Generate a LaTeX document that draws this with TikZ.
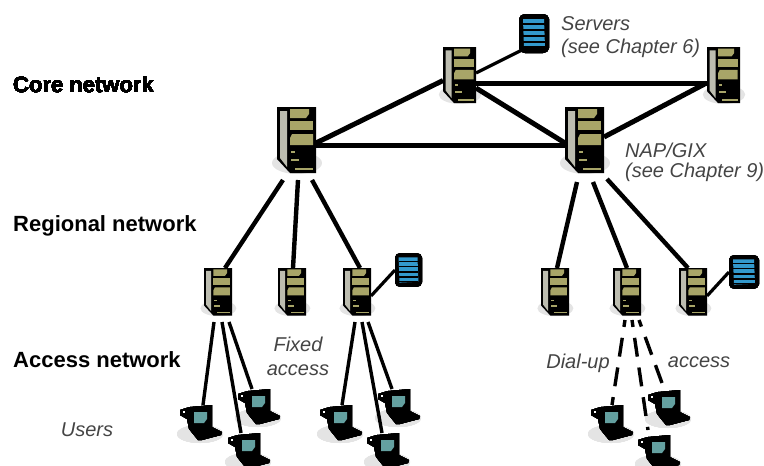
\documentclass[tikz,border=0pt]{standalone}
\usepackage{fontspec}
\setmainfont{Liberation Sans}
\definecolor{olivepanel}{HTML}{A8A568}
\definecolor{doorgray}{HTML}{BDBDB0}
\definecolor{shadowgray}{HTML}{E4E4E4}
\definecolor{teal2}{HTML}{64A0A0}
\definecolor{dbblue}{HTML}{3399CC}
\definecolor{txt}{HTML}{444444}
\tikzset{
  x=1pt,y=-1pt,
  anchorbox/.style={inner sep=0pt,outer sep=0pt,minimum width=#1},
  core/.style={line width=5pt},
  regional/.style={line width=4.4pt},
  access/.style={line width=3.4pt},
  dbLink/.style={line width=3.2pt},
  dial/.style={line width=3.4pt,dash pattern=on 19pt off 11pt,dash phase=12pt},
  head/.style={font=\fontsize{22}{26}\selectfont\bfseries,anchor=west,text=black,inner sep=0pt},
  note/.style={font=\fontsize{20}{24}\selectfont\itshape,text=txt,inner sep=0pt},
  srvshadow/.pic={\fill[shadowgray] (20,56) ellipse (25 and 11);},
  srv/.pic={
    \fill[black] (0,0)--(39,0)--(39,66)--(13,66)--(0,52)--cycle;
    \fill[doorgray] (3,4)--(10,4)--(10,60)--(3,51)--cycle;
    \fill[olivepanel] (13,2)--(32,2)--(32,7)--(29,11)--(13,11)--cycle;
    \fill[olivepanel] (13,14)--(36,14)--(36,23)--(13,23)--cycle;
    \fill[olivepanel] (15,27)--(36,27)--(36,38)--(13,38)--(13,31)--cycle;
    \fill[olivepanel] (14,44) rectangle (18,46);
    \fill[olivepanel] (14,52) rectangle (22,54);
    \fill[olivepanel] (18,61) rectangle (36,63);
  },
  db/.pic={
    \fill[black,rounded corners=2pt] (0,3)--(4,0)--(26,0)--(30,3)--(30,36)--(26,39)--(4,39)--(0,36)--cycle;
    \fill[dbblue] (4,5)--(25,5)--(26,33)--(5,34)--cycle;
    \foreach \yy in {9,15,21,27,32} \fill[black] (4,\yy) rectangle (26,\yy+1.6);
  },
  lapshadow/.pic={\fill[shadowgray] (20,29) ellipse (23 and 9);},
  lap/.pic={
    \fill[black] (10,2)--(32,0)--(32,22)--(42,27)--(41,30)--(22,35)--(18,35)--(9,24)--(7,14)--(0,10)--(0,5)--(6,3)--cycle;
    \fill[white] (3,6) rectangle (5,8);
    \fill[teal2] (14,7)--(27,7)--(27,14)--(24,18)--(14,18)--cycle;
  }
}
\newcommand{\place}[5]{\pic[xscale=#4,yscale=#5] at (#2,#3) {#1};}
\begin{document}
\begin{tikzpicture}
\useasboundingbox (0,0) rectangle (764,466);
% shadows
\place{srvshadow}{277}{107}{1}{1}
\place{srvshadow}{443}{47}{.85}{.85}
\place{srvshadow}{707}{47}{.85}{.85}
\place{srvshadow}{565}{107}{1}{1}
\foreach \xx in {204,278,343,541,613,679} \place{srvshadow}{\xx+0}{268}{.72}{.72}
\foreach \xx/\yy in {180/405,238/389,228/433,320/405,378/389,367/433,591/405,648/390,638/435} \place{lapshadow}{\xx}{\yy}{1}{1}
% named anchors
\node[anchorbox=39pt,minimum height=66pt] (S) at (296.5,140) {};
\node[anchorbox=33pt,minimum height=55pt] (C1) at (459.5,74.5) {};
\node[anchorbox=33pt,minimum height=55pt] (C2) at (723,74.5) {};
\node[anchorbox=39pt,minimum height=66pt] (N) at (584.5,140) {};
\node[anchorbox=28pt,minimum height=48pt] (R1) at (218,292) {};
\node[anchorbox=28pt,minimum height=48pt] (R2) at (292,292) {};
\node[anchorbox=28pt,minimum height=48pt] (R3) at (357,292) {};
\node[anchorbox=28pt,minimum height=48pt] (R4) at (555,292) {};
\node[anchorbox=28pt,minimum height=48pt] (R5) at (627,292) {};
\node[anchorbox=28pt,minimum height=48pt] (R6) at (693,292) {};
\node[anchorbox=30pt,minimum height=39pt] (D1) at (534,33.5) {};
\node[anchorbox=27pt,minimum height=34pt] (D2) at (408.5,270) {};
\node[anchorbox=30pt,minimum height=34pt] (D3) at (744,272) {};
\foreach \n/\xx/\yy in {L1/180/405,L2/238/389,L3/228/433,L4/320/405,L5/378/389,L6/367/433,L7/591/405,L8/648/390,L9/638/435}
  \node[anchorbox=42pt,minimum height=35pt] (\n) at (\xx+21,\yy+17.5) {};
% core links
\draw[core] ([yshift=-3pt]S.east) -- ([yshift=-6pt]C1.west);
\draw[core] ([yshift=-5pt]S.east) -- ([yshift=-5pt]N.west);
\draw[core] ([yshift=-8.5pt]C1.east) -- ([yshift=-8.5pt]C2.west);
\draw[core] ([yshift=-13.5pt]C1.east) -- ([yshift=-3pt]N.west);
\draw[core] ([yshift=3pt]N.east) -- ([yshift=-8.5pt]C2.west);
\draw[dbLink] ([yshift=1.5pt]C1.east) -- ([xshift=3pt,yshift=3pt]D1.south west);
% regional links
\draw[regional] ([xshift=-13.5pt,yshift=-7pt]S.south) -- ([xshift=7pt]R1.north);
\draw[regional] ([xshift=1.5pt,yshift=-7pt]S.south) -- ([xshift=1pt]R2.north);
\draw[regional] ([xshift=15.5pt,yshift=-7pt]S.south) -- ([xshift=3pt]R3.north);
\draw[regional] ([xshift=-7.5pt,yshift=-9pt]N.south) -- ([xshift=2pt]R4.north);
\draw[regional] ([xshift=8.5pt,yshift=-9pt]N.south) -- (R5.north);
\draw[regional] ([xshift=22.5pt,yshift=-6pt]N.south) -- ([xshift=-5pt]R6.north);
\draw[dbLink] ([yshift=-4pt]R3.east) -- (D2.west);
\draw[dbLink] ([yshift=-4pt]R6.east) -- (D3.west);
% access links
\draw[access] ([xshift=-4pt,yshift=-6pt]R1.south) -- ([xshift=2pt]L1.north);
\draw[access] ([xshift=4pt,yshift=-6pt]R1.south) -- ([xshift=-8pt]L3.north);
\draw[access] ([xshift=11pt,yshift=-6pt]R1.south) -- ([xshift=-7pt]L2.north);
\draw[access] ([xshift=-2pt,yshift=-6pt]R3.south) -- ([xshift=1pt]L4.north);
\draw[access] ([xshift=5pt,yshift=-6pt]R3.south) -- ([xshift=-6pt]L6.north);
\draw[access] ([xshift=11pt,yshift=-6pt]R3.south) -- ([xshift=-7pt]L5.north);
% dial-up links
\draw[dial] ([xshift=-2pt,yshift=-4pt]R5.south) -- (L7.north);
\draw[dial] ([xshift=5pt,yshift=-4pt]R5.south) -- ([xshift=-11pt,yshift=5pt]L9.north);
\draw[dial] ([xshift=12pt,yshift=-4pt]R5.south) -- ([xshift=-7pt,yshift=7pt]L8.north);
% devices
\place{srv}{277}{107}{1}{1}
\place{srv}{443}{47}{.85}{.85}
\place{srv}{707}{47}{.85}{.85}
\place{srv}{565}{107}{1}{1}
\foreach \xx in {204,278,343,541,613,679} \place{srv}{\xx+0}{268}{.72}{.72}
\place{db}{519}{14}{1}{1}
\place{db}{395}{253}{.9}{.87}
\place{db}{729}{255}{1}{.87}
\foreach \xx/\yy in {180/405,238/389,228/433,320/405,378/389,367/433,591/405,648/390,638/435} \place{lap}{\xx}{\yy}{1}{1}
% labels
\node[head] (t1) at (13,85) {Core network};
\node[head] (t2) at (13,226) {Regional network};
\node[head] (t3) at (13,360) {Access network};
\node[note,anchor=west] (t4) at (561,24) {Servers};
\node[note,anchor=west] (t5) at (561,48) {(see Chapter 6)};
\node[note,anchor=west] (t6) at (625,150) {NAP/GIX};
\node[note,anchor=west] (t7) at (625,172) {(see Chapter 9)};
\node[note] (t8) at (298,344) {Fixed};
\node[note] (t9) at (298,370) {access};
\node[note] (t10) at (578,363) {Dial-up};
\node[note] (t11) at (699,362) {access};
\node[note] (t12) at (87,430) {Users};
\end{tikzpicture}
\end{document}
